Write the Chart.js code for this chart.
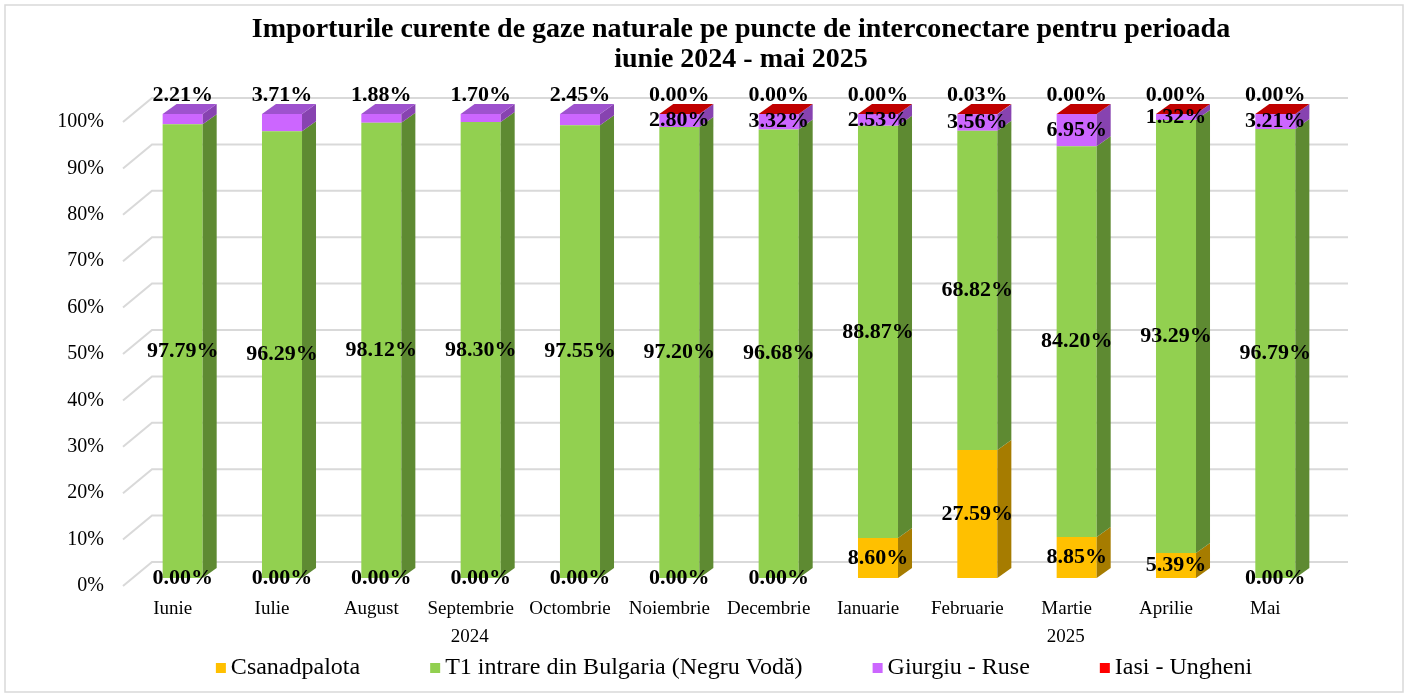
<!DOCTYPE html>
<html>
<head>
<meta charset="utf-8">
<script src="https://cdn.jsdelivr.net/npm/chart.js@4"></script>
<style>
  html, body { margin: 0; padding: 0; background: #fff; }
  #wrap { position: relative; width: 1408px; height: 697px; }
</style>
</head>
<body>
<div id="wrap"><canvas id="chart" width="1408" height="697"></canvas></div>
<script>
const months = ['Iunie', 'Iulie', 'August', 'Septembrie', 'Octombrie', 'Noiembrie', 'Decembrie',
  'Ianuarie', 'Februarie', 'Martie', 'Aprilie', 'Mai'];
const years = ['2024', '2025'];
const monthsPerYear = [7, 5];

const csanadpalota = [0, 0, 0, 0, 0, 0, 0, 8.60, 27.59, 8.85, 5.39, 0];
const negruVoda = [97.79, 96.29, 98.12, 98.30, 97.55, 97.20, 96.68, 88.87, 68.82, 84.20, 93.29, 96.79];
const giurgiuRuse = [2.21, 3.71, 1.88, 1.70, 2.45, 2.80, 3.32, 2.53, 3.56, 6.95, 1.32, 3.21];
const iasiUngheni = [null, null, null, null, null, 0, 0, 0, 0.03, 0, 0, 0];

const titleLines = ['Importurile curente de gaze naturale pe puncte de interconectare pentru perioada',
  'iunie 2024 - mai 2025'];

const SERIF = '"Liberation Serif", "Times New Roman", serif';
const DX = 14, DY = 10;         // 3d depth of the bars
const WALL_DX = 19, WALL_DY = 16; // back wall offset of the grid

function polygon(ctx, pts, color) {
  ctx.beginPath();
  ctx.moveTo(pts[0][0], pts[0][1]);
  for (let i = 1; i < pts.length; i++) ctx.lineTo(pts[i][0], pts[i][1]);
  ctx.closePath();
  ctx.fillStyle = color;
  ctx.fill();
}

const excel3d = {
  id: 'excel3d',
  beforeDraw(chart) {
    const ctx = chart.ctx;
    ctx.save();
    ctx.fillStyle = '#fff';
    ctx.fillRect(0, 0, chart.width, chart.height);
    ctx.strokeStyle = '#d9d9d9';
    ctx.lineWidth = 1.5;
    ctx.strokeRect(5, 5, chart.width - 10, chart.height - 10);
    ctx.restore();
  },
  beforeDatasetsDraw(chart) {
    const { ctx, chartArea, scales } = chart;
    ctx.save();
    ctx.strokeStyle = '#d9d9d9';
    ctx.lineWidth = 2;
    scales.y.ticks.forEach(t => {
      const yf = scales.y.getPixelForValue(t.value);
      ctx.beginPath();
      ctx.moveTo(chartArea.left - 10, yf + 8);
      ctx.lineTo(chartArea.left + WALL_DX, yf - WALL_DY);
      ctx.lineTo(chartArea.right + 23, yf - WALL_DY);
      ctx.stroke();
    });
    ctx.restore();
  },
  afterDatasetsDraw(chart) {
    const ctx = chart.ctx;
    const sets = chart.data.datasets;
    ctx.save();
    // side faces
    sets.forEach((ds, i) => {
      chart.getDatasetMeta(i).data.forEach((bar, j) => {
        if (ds.data[j] === null) return;
        const r = bar.x + bar.width / 2;
        if (Math.abs(bar.base - bar.y) < 0.5) return;
        polygon(ctx, [[r, bar.y], [r + DX, bar.y - DY], [r + DX, bar.base - DY], [r, bar.base]], ds.sideColor);
      });
    });
    // top face of each stack
    months.forEach((m, j) => {
      let top = -1;
      sets.forEach((ds, i) => { if (ds.data[j] !== null) top = i; });
      const bar = chart.getDatasetMeta(top).data[j];
      const l = bar.x - bar.width / 2, r = bar.x + bar.width / 2;
      polygon(ctx, [[l, bar.y], [l + DX, bar.y - DY], [r + DX, bar.y - DY], [r, bar.y]], sets[top].topColor);
    });
    // data labels
    ctx.font = 'bold 22px ' + SERIF;
    ctx.fillStyle = '#000';
    ctx.textAlign = 'center';
    ctx.textBaseline = 'middle';
    sets.forEach((ds, i) => {
      chart.getDatasetMeta(i).data.forEach((bar, j) => {
        const v = ds.data[j];
        if (v === null) return;
        let y = (bar.y + bar.base) / 2;
        const above = i === 3 || (i === 2 && iasiUngheni[j] === null);
        if (above) y = bar.y - 19;
        ctx.fillText(v.toFixed(2) + '%', bar.x, y);
      });
    });
    ctx.restore();
  },
  afterDraw(chart) {
    const { ctx, chartArea, scales } = chart;
    ctx.save();
    ctx.fillStyle = '#000';
    // y axis labels
    ctx.font = '20px ' + SERIF;
    ctx.textAlign = 'right';
    ctx.textBaseline = 'middle';
    scales.y.ticks.forEach(t => {
      ctx.fillText(t.value + '%', chartArea.left - 29, scales.y.getPixelForValue(t.value) + 8);
    });
    // month labels
    ctx.font = '19px ' + SERIF;
    ctx.textAlign = 'center';
    months.forEach((m, j) => ctx.fillText(m, scales.x.getPixelForValue(j) - 10, chartArea.bottom + 31));
    // year labels
    let start = 0;
    years.forEach((yr, k) => {
      const end = start + monthsPerYear[k] - 1;
      const x = (scales.x.getPixelForValue(start) + scales.x.getPixelForValue(end)) / 2 - 11;
      ctx.fillText(yr, x, chartArea.bottom + 59);
      start = end + 1;
    });
    // title
    ctx.font = 'bold 28px ' + SERIF;
    titleLines.forEach((line, k) => ctx.fillText(line, 741, 30 + k * 30));
    // legend
    ctx.font = '24px ' + SERIF;
    ctx.textAlign = 'left';
    const sets = chart.data.datasets;
    const widths = sets.map(ds => 15 + ctx.measureText(ds.label).width);
    const gap = 70;
    let x = 734 - (widths.reduce((a, b) => a + b, 0) + gap * (sets.length - 1)) / 2;
    sets.forEach((ds, i) => {
      ctx.fillStyle = ds.backgroundColor;
      ctx.fillRect(x, 663, 10, 10);
      ctx.fillStyle = '#000';
      ctx.fillText(ds.label, x + 15, 668);
      x += widths[i] + gap;
    });
    ctx.restore();
  }
};

new Chart(document.getElementById('chart'), {
  type: 'bar',
  data: {
    labels: months,
    datasets: [
      { label: 'Csanadpalota', data: csanadpalota, backgroundColor: '#FFC000', sideColor: '#A67C00', topColor: '#D9A300' },
      { label: 'T1 intrare din Bulgaria (Negru Vodă)', data: negruVoda, backgroundColor: '#92D050', sideColor: '#5E8A32', topColor: '#7AB043' },
      { label: 'Giurgiu - Ruse', data: giurgiuRuse, backgroundColor: '#CC66FF', sideColor: '#8743B0', topColor: '#9E52CE' },
      { label: 'Iasi - Ungheni', data: iasiUngheni, backgroundColor: '#FF0000', sideColor: '#9A0000', topColor: '#C00000' }
    ]
  },
  options: {
    responsive: false,
    animation: false,
    devicePixelRatio: 1,
    layout: { padding: { left: 133, right: 83, top: 114, bottom: 119 } },
    datasets: { bar: { categoryPercentage: 1, barPercentage: 0.403, borderWidth: 0 } },
    plugins: { legend: { display: false }, title: { display: false }, tooltip: { enabled: false } },
    scales: {
      x: { stacked: true, display: false },
      y: { stacked: true, display: false, min: 0, max: 100, ticks: { stepSize: 10 } }
    }
  },
  plugins: [excel3d]
});
</script>
</body>
</html>
